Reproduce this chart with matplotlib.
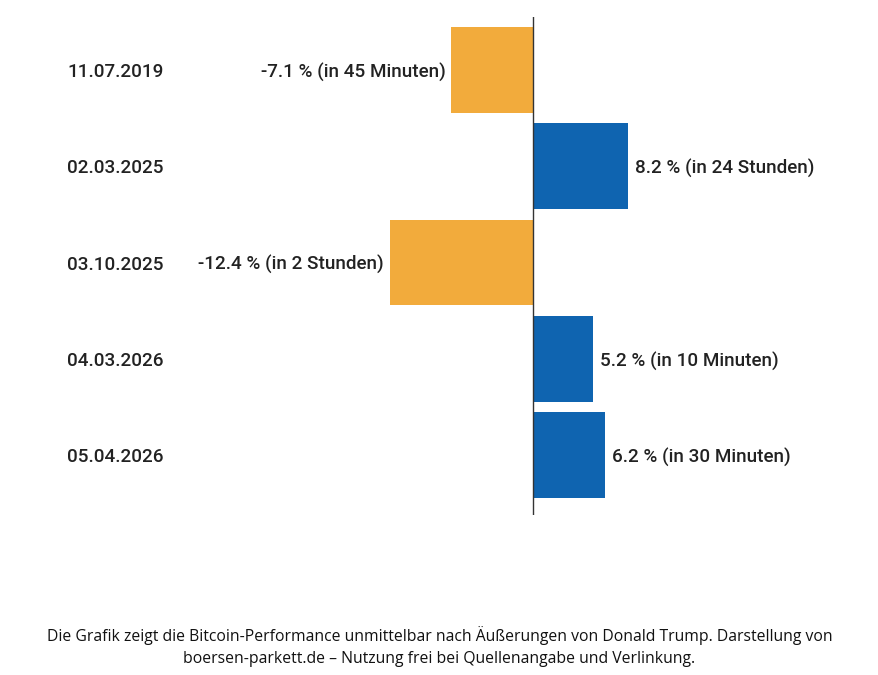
import matplotlib
matplotlib.use("Agg")
import matplotlib.pyplot as plt
from matplotlib.transforms import blended_transform_factory, offset_copy

dates = ["11.07.2019", "02.03.2025", "03.10.2025", "04.03.2026", "05.04.2026"]
values = [-7.1, 8.2, -12.4, 5.2, 6.2]
periods = ["in 45 Minuten", "in 24 Stunden", "in 2 Stunden", "in 10 Minuten", "in 30 Minuten"]
caption = ("Die Grafik zeigt die Bitcoin-Performance unmittelbar nach Äußerungen von Donald Trump. Darstellung von\n"
           "boersen-parkett.de – Nutzung frei bei Quellenangabe und Verlinkung.")

ORANGE = "#F2AB3C"
BLUE = "#0F64B0"

fig = plt.figure(figsize=(8.79, 6.75), dpi=100)
ax = fig.add_axes([302/879, 160/675, 462/879, 498/675])
ypos = list(range(len(dates)))
colors = [ORANGE if v < 0 else BLUE for v in values]
ax.barh(ypos, values, height=0.89, color=colors)
ax.set_xlim(-20, 20)
ax.set_ylim(4.62, -0.55)
ax.axvline(0, color="#333333", lw=1.0)
for s in ax.spines.values():
    s.set_visible(False)
ax.set_xticks([])
ax.set_yticks([])

font = dict(family=["Roboto", "DejaVu Sans"], fontsize=13.6, fontweight="medium", color="#222222")
trans = blended_transform_factory(fig.transFigure, ax.transData)
trans = offset_copy(trans, fig=fig, x=0, y=-1.5, units="points")
for y, d, v, p in zip(ypos, dates, values, periods):
    ax.text(67/879, y, d, transform=trans, ha="left", va="center", **font)
    label = f"{v:.1f} % ({p})"
    if v < 0:
        ax.annotate(label, (v, y), xytext=(-4, -1.5), textcoords="offset points",
                    ha="right", va="center", **font)
    else:
        ax.annotate(label, (v, y), xytext=(5, -1.5), textcoords="offset points",
                    ha="left", va="center", **font)

fig.text(0.5, 1 - 647/675, caption, ha="center", va="center", fontsize=11.3,
         family=["Open Sans", "DejaVu Sans"], color="#111111", linespacing=1.5)

fig.savefig("out.png", dpi=100, facecolor="white")
